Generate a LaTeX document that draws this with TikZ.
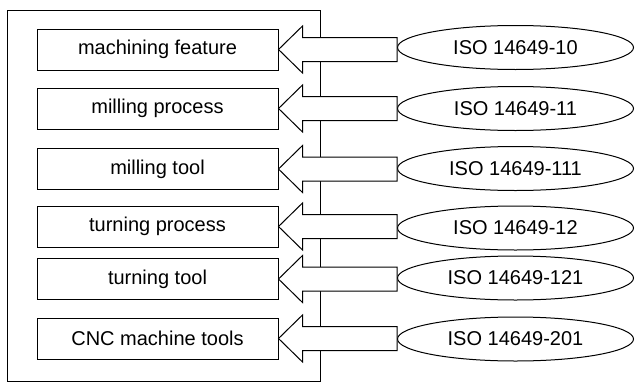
\documentclass[tikz,border=0pt]{standalone}
\usepackage{fontspec}
\setmainfont{Liberation Sans}
\usetikzlibrary{shapes.geometric,calc}

\tikzset{
  stdbox/.style={draw, line width=1pt, minimum width=241pt, minimum height=41pt,
    inner sep=0pt, font=\fontsize{20}{24}\selectfont},
  stdoval/.style={ellipse, draw, line width=1pt, minimum width=236pt, minimum height=44pt,
    inner sep=0pt, font=\fontsize{20}{24}\selectfont},
  frame/.style={draw, line width=1pt},
  % hollow block arrow from an oval to a box
  fatarrow/.style={to path={
    let \p1=(\tikztotarget), \p2=(\tikztostart) in
    (\p1) -- (\x1+24pt,\y1+23.5pt) -- (\x1+24pt,\y1+12pt) -- (\x2,\y1+12pt)
    -- (\x2,\y1-12pt) -- (\x1+24pt,\y1-12pt) -- (\x1+24pt,\y1-23.5pt) -- cycle}},
  blockarrow/.style={draw, fill=white, line width=1pt, line join=miter}
}

\begin{document}
\begin{tikzpicture}[x=1pt, y=-1pt]
  \useasboundingbox (0,0) rectangle (635,383);

  % enclosing frame
  \draw[frame] (7,10) rectangle (320,381);

  % data model parts
  \node[stdbox] (b1) at (157.5,49.5)  {machining feature};
  \node[stdbox] (b2) at (157.5,108.5) {milling process};
  \node[stdbox] (b3) at (157.5,169)   {milling tool};
  \node[stdbox] (b4) at (157.5,226.5) {turning process};
  \node[stdbox] (b5) at (157.5,279)   {turning tool};
  \node[stdbox] (b6) at (157.5,338.5) {CNC machine tools};

  % standards
  \node[stdoval] (e1) at (515.5,47.5)  {ISO 14649-10};
  \node[stdoval] (e2) at (515.5,108.5) {ISO 14649-11};
  \node[stdoval] (e3) at (515.5,168.5) {ISO 14649-111};
  \node[stdoval] (e4) at (515.5,228)   {ISO 14649-12};
  \node[stdoval] (e5) at (515.5,278)   {ISO 14649-121};
  \node[stdoval] (e6) at (515.5,339)   {ISO 14649-201};

  % block arrows
  \foreach \i in {1,...,6}
    \draw[blockarrow] (e\i.west) to[fatarrow] (b\i.east);
\end{tikzpicture}
\end{document}
